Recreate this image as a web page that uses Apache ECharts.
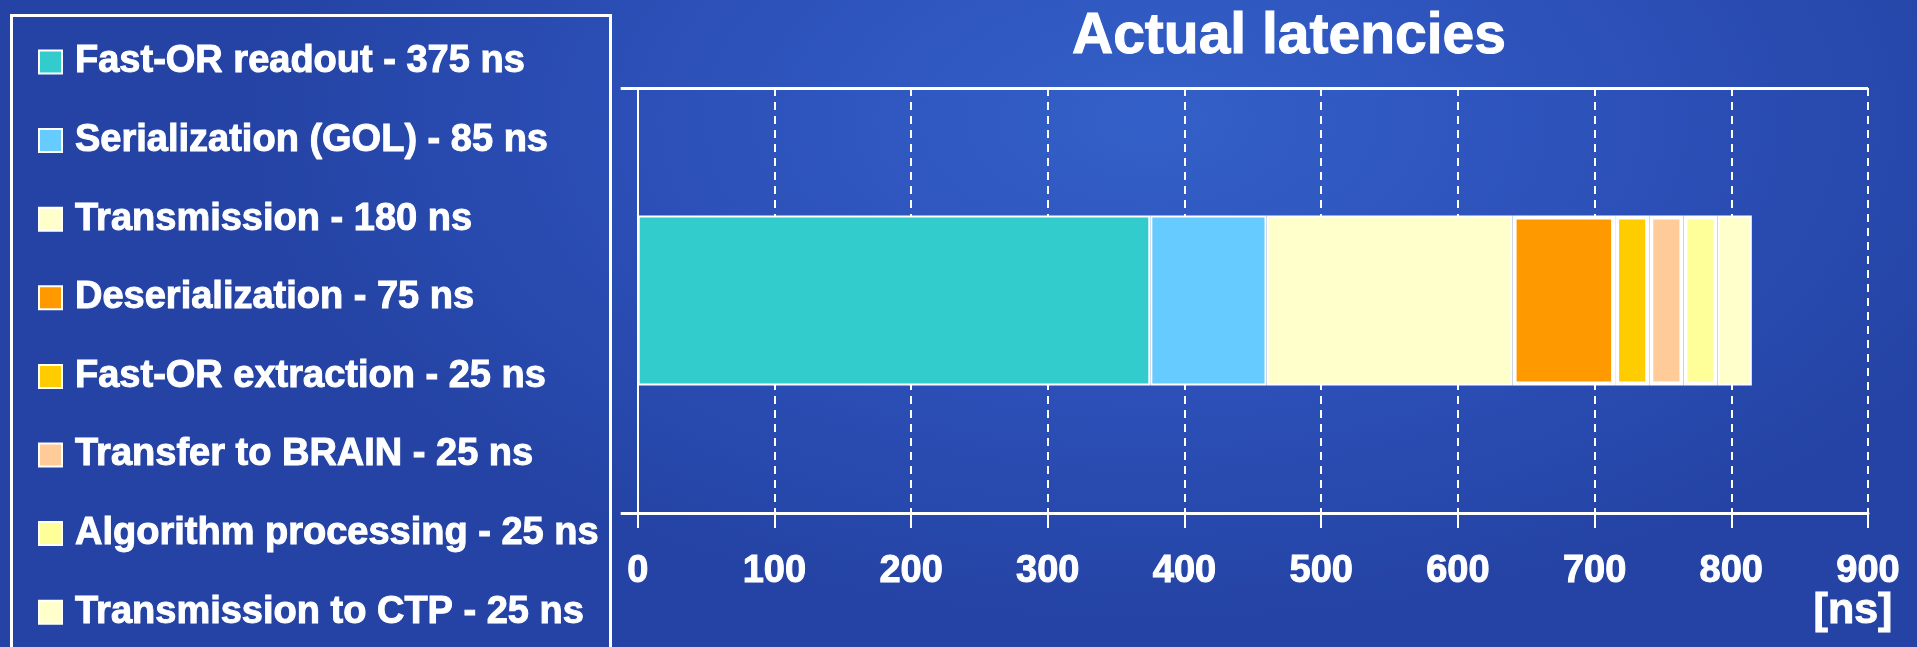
<!DOCTYPE html>
<html>
<head>
<meta charset="utf-8">
<script src="https://cdn.jsdelivr.net/npm/echarts@6/dist/echarts.min.js"></script>
<style>
html,body{margin:0;padding:0;width:1917px;height:647px;overflow:hidden;
background:radial-gradient(ellipse 900px 500px at 1150px 120px,#3360C8 0%,#2C50B8 55%,#2443A4 100%);}
#chart{width:1917px;height:647px;}
</style>
</head>
<body>
<div id="chart"></div>
<script>
// ---- data ----
const categories = ['Latency'];
const stageNames = ['Fast-OR readout', 'Serialization (GOL)', 'Transmission', 'Deserialization',
  'Fast-OR extraction', 'Transfer to BRAIN', 'Algorithm processing', 'Transmission to CTP'];
const stageValues = [375, 85, 180, 75, 25, 25, 25, 25];
const xTickMin = 0, xTickMax = 900, xTickStep = 100;
const titleText = 'Actual latencies';
const unitText = '[ns]';
// ---- styles ----
const stageColors = ['#33CCCC', '#66CCFF', '#FFFFCC', '#FF9900', '#FFCC00', '#FFCC99', '#FFFF99', '#FFFFCC'];
const framedStages = [false, false, false, true, true, true, true, false];

const FONT = '"Liberation Sans", Arial, sans-serif';
const chart = echarts.init(document.getElementById('chart'), null, {renderer: 'canvas'});

const series = stageNames.map((n, i) => ({
  name: n + ' - ' + stageValues[i] + ' ns',
  type: 'bar',
  stack: 'total',
  barWidth: '40%',
  data: [stageValues[i]],
  itemStyle: {color: stageColors[i], borderColor: '#ffffff', borderWidth: framedStages[i] ? 4 : 2},
  emphasis: {disabled: true},
  animation: false
}));

chart.setOption({
  animation: false,
  backgroundColor: 'transparent',
  title: {
    text: titleText, left: 1067, top: 4,
    textStyle: {color: '#fff', fontSize: 57, fontWeight: 'bold', fontFamily: FONT, textBorderColor: '#fff', textBorderWidth: 1}
  },
  legend: {
    orient: 'vertical', left: 33, top: 37,
    itemWidth: 23, itemHeight: 23, itemGap: 38.6,
    icon: 'rect', selectedMode: false,
    itemStyle: {borderColor: '#ffffff', borderWidth: 2},
    textStyle: {color: '#fff', fontSize: 38, fontWeight: 'bold', fontFamily: FONT, lineHeight: 40, padding: [0, 0, 0, 8],
      textBorderColor: '#fff', textBorderWidth: 1}
  },
  graphic: [{
    type: 'rect', left: 9, top: 13, z: 0,
    shape: {width: 599, height: 660},
    style: {fill: 'none', stroke: '#ffffff', lineWidth: 3}
  }, {
    type: 'text', x: 1853, y: 611, z: 10,
    style: {text: unitText, fill: '#fff', font: 'bold 43px "Liberation Sans", Arial, sans-serif',
      textAlign: 'center', textVerticalAlign: 'middle', stroke: '#fff', lineWidth: 1}
  }],
  grid: {left: 637.7, right: 49, top: 88, bottom: 134, containLabel: false, outerBoundsMode: 'none'},
  xAxis: {
    type: 'value', min: xTickMin, max: xTickMax, interval: xTickStep,
    axisLine: {show: true, lineStyle: {color: '#fff', width: 3}},
    axisTick: {show: true, length: 15, lineStyle: {color: '#fff', width: 2}},
    axisLabel: {color: '#fff', fontSize: 38, fontWeight: 'bold', fontFamily: FONT, margin: 40, lineHeight: 38,
      textBorderColor: '#fff', textBorderWidth: 1},
    splitLine: {show: true, showMinLine: false, lineStyle: {color: '#fff', width: 2, type: [8, 6]}}
  },
  yAxis: {
    type: 'category', data: categories,
    axisLine: {show: true, lineStyle: {color: '#fff', width: 2}},
    axisTick: {show: true, length: 17, lineStyle: {color: '#fff', width: 3}},
    axisLabel: {show: false},
    splitLine: {show: true, lineStyle: {color: '#fff', width: 3}}
  },
  series: series
});
</script>
</body>
</html>
